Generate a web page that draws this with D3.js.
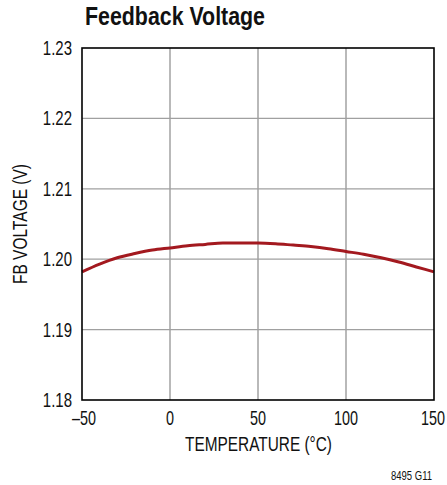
<!DOCTYPE html>
<html><head><meta charset="utf-8">
<script src="https://cdn.jsdelivr.net/npm/d3@7"></script>
<style>
body{margin:0;background:#fff;}
text{font-family:"Liberation Sans",Arial,sans-serif;fill:#111;}
</style></head>
<body><svg id="c" width="447" height="485"></svg>
<script>
const temps = [-50,-40,-30,-20,-10,0,10,20,30,40,50,60,70,80,90,100,110,120,130,140,150];
const fbVoltage = [1.1982,1.1993,1.2002,1.2008,1.2013,1.2016,1.2019,1.2021,1.2023,1.2023,1.2023,1.2022,1.2020,1.2018,1.2015,1.2011,1.2007,1.2002,1.1996,1.1989,1.1982];
const xTicks = [-50,0,50,100,150];
const yTicks = [1.18,1.19,1.20,1.21,1.22,1.23];
const xTickLabels = ["\u201350","0","50","100","150"];
const yTickLabels = ["1.18","1.19","1.20","1.21","1.22","1.23"];

const svg = d3.select("#c");
const L=82,R=434,T=48,B=400;
const x = d3.scaleLinear().domain([-50,150]).range([L,R]);
const y = d3.scaleLinear().domain([1.18,1.23]).range([B,T]);

// grid
svg.append("g").selectAll("line").data(xTicks.slice(1,-1)).join("line")
  .attr("x1",d=>x(d)).attr("x2",d=>x(d)).attr("y1",T).attr("y2",B)
  .attr("stroke","#8a8a8a").attr("stroke-width",1.2);
svg.append("g").selectAll("line").data(yTicks.slice(1,-1)).join("line")
  .attr("y1",d=>y(d)).attr("y2",d=>y(d)).attr("x1",L).attr("x2",R)
  .attr("stroke","#a0a0a0").attr("stroke-width",1.2);

// curve
svg.append("path").datum(temps.map((t,i)=>[t,fbVoltage[i]]))
  .attr("d", d3.line().x(d=>x(d[0])).y(d=>y(d[1])).curve(d3.curveMonotoneX))
  .attr("fill","none").attr("stroke","#a3191f").attr("stroke-width",3);

// frame
svg.append("rect").attr("x",L).attr("y",T).attr("width",R-L).attr("height",B-T)
  .attr("fill","none").attr("stroke","#000").attr("stroke-width",1.6);

// tick labels
svg.append("g").selectAll("text").data(yTicks).join("text")
  .attr("transform",d=>`translate(${L-10},${y(d)+7}) scale(0.75,1)`)
  .attr("text-anchor","end")
  .attr("font-size",20).text((d,i)=>yTickLabels[i]);
const last = xTicks.length-1;
svg.append("g").selectAll("text").data(xTicks).join("text")
  .attr("transform",(d,i)=>`translate(${i===last ? x(d)-1 : (i===0 ? x(d)+2 : x(d))},${B+25}) scale(0.72,1)`)
  .attr("text-anchor","middle")
  .attr("font-size",20).text((d,i)=>xTickLabels[i]);

// axis titles
svg.append("text").attr("x",258.5).attr("y",451).attr("text-anchor","middle")
  .attr("font-size",20).text("TEMPERATURE (\u00B0C)")
  .attr("textLength",147).attr("lengthAdjust","spacingAndGlyphs");
svg.append("text").attr("transform",`translate(27,${(T+B)/2}) rotate(-90)`)
  .attr("text-anchor","middle").attr("font-size",20).text("FB VOLTAGE (V)")
  .attr("textLength",120).attr("lengthAdjust","spacingAndGlyphs");

// title
svg.append("text").attr("x",85).attr("y",25).attr("font-size",25).attr("font-weight","bold")
  .text("Feedback Voltage").attr("textLength",180).attr("lengthAdjust","spacingAndGlyphs");
// footnote
svg.append("text").attr("x",432).attr("y",480).attr("text-anchor","end")
  .attr("font-size",13).text("8495 G11")
  .attr("textLength",41).attr("lengthAdjust","spacingAndGlyphs");
</script></body></html>
